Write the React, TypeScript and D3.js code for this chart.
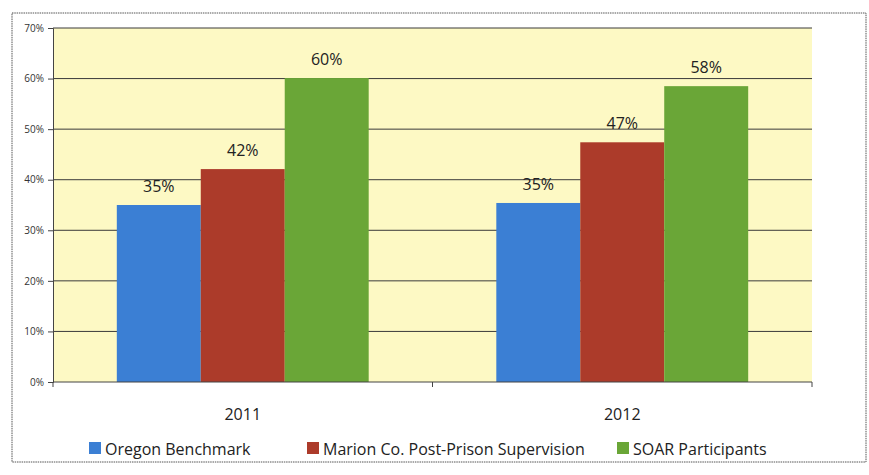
import { useEffect, useRef } from "react";
import * as d3 from "d3";

const YEARS = ["2011", "2012"];
const SERIES = ["Oregon Benchmark", "Marion Co. Post-Prison Supervision", "SOAR Participants"];
const OREGON = [35, 35.4];
const MARION = [42.1, 47.4];
const SOAR = [60.1, 58.5];
const LABELS = [["35%", "35%"], ["42%", "47%"], ["60%", "58%"]];
const Y_TICKS = [0, 10, 20, 30, 40, 50, 60, 70];
const COLORS = ["#3b7fd4", "#ac3b2a", "#6aa637"];
const LEGEND_X = [89, 307, 617];

export default function App() {
  const ref = useRef<SVGSVGElement>(null);

  useEffect(() => {
    if (!ref.current) return;
    const width = 869;
    const height = 475;
    const left = 53, right = 812, top = 28, bottom = 382;
    const font = "'Open Sans', 'DejaVu Sans', sans-serif";
    const values = [OREGON, MARION, SOAR];

    const svg = d3.select(ref.current);
    svg.selectAll("*").remove();
    svg.attr("width", width).attr("height", height);

    svg.append("rect").attr("width", width).attr("height", height).attr("fill", "#ffffff");
    svg.append("rect")
      .attr("x", 12).attr("y", 13).attr("width", 854).attr("height", 449)
      .attr("fill", "none").attr("stroke", "#555").attr("stroke-width", 1)
      .attr("stroke-dasharray", "1.5,0.8");

    const x0 = d3.scaleBand().domain(YEARS).range([left, right]).paddingInner(0).paddingOuter(0);
    const x1 = d3.scaleBand().domain(SERIES).range([0, x0.bandwidth()])
      .paddingInner(0).paddingOuter(0.76);
    const y = d3.scaleLinear().domain([0, 70]).range([bottom, top]);

    svg.append("rect")
      .attr("x", left).attr("y", top).attr("width", right - left).attr("height", bottom - top)
      .attr("fill", "#fdf9c4");

    svg.append("g")
      .selectAll("line")
      .data(Y_TICKS.filter((t) => t > 0))
      .enter()
      .append("line")
      .attr("x1", left).attr("x2", right)
      .attr("y1", (d) => y(d)).attr("y2", (d) => y(d))
      .attr("stroke", "#3a3a3a").attr("stroke-width", 1);

    const g = svg.append("g");
    values.forEach((vals, si) => {
      YEARS.forEach((yr, i) => {
        const bx = (x0(yr) ?? 0) + (x1(SERIES[si]) ?? 0);
        g.append("rect")
          .attr("x", bx).attr("y", y(vals[i]))
          .attr("width", x1.bandwidth()).attr("height", bottom - y(vals[i]))
          .attr("fill", COLORS[si]);
        g.append("text")
          .attr("x", bx + x1.bandwidth() / 2).attr("y", y(vals[i]) - 13)
          .attr("text-anchor", "middle")
          .attr("font-family", font).attr("font-size", 16).attr("fill", "#222")
          .text(LABELS[si][i]);
      });
    });

    const yAxis = svg.append("g")
      .attr("transform", `translate(${left},0)`)
      .call(d3.axisLeft(y).tickValues(Y_TICKS).tickSize(5).tickPadding(4)
        .tickFormat((v) => `${v}%`));
    yAxis.selectAll("text").attr("font-family", font).attr("font-size", 10).attr("fill", "#333");
    yAxis.selectAll("line,path").attr("stroke", "#444");

    const xAxis = svg.append("g").attr("transform", `translate(0,${bottom})`);
    xAxis.append("line").attr("x1", left).attr("x2", right).attr("stroke", "#444");
    xAxis.selectAll("line.tick")
      .data([left, (x0("2012") ?? 0), right])
      .enter()
      .append("line")
      .attr("x1", (d) => d).attr("x2", (d) => d).attr("y1", 0).attr("y2", 5)
      .attr("stroke", "#444");
    xAxis.selectAll("text")
      .data(YEARS)
      .enter()
      .append("text")
      .attr("x", (d) => (x0(d) ?? 0) + x0.bandwidth() / 2).attr("y", 38)
      .attr("text-anchor", "middle")
      .attr("font-family", font).attr("font-size", 16).attr("fill", "#222")
      .text((d) => d);

    const legend = svg.append("g");
    SERIES.forEach((s, i) => {
      legend.append("rect")
        .attr("x", LEGEND_X[i]).attr("y", 442).attr("width", 12).attr("height", 12)
        .attr("fill", COLORS[i]);
      legend.append("text")
        .attr("x", LEGEND_X[i] + 16).attr("y", 455)
        .attr("font-family", font).attr("font-size", 16).attr("fill", "#222")
        .text(s);
    });
  }, []);

  return <svg ref={ref} style={{ position: "absolute", left: 0, top: 0 }} />;
}
